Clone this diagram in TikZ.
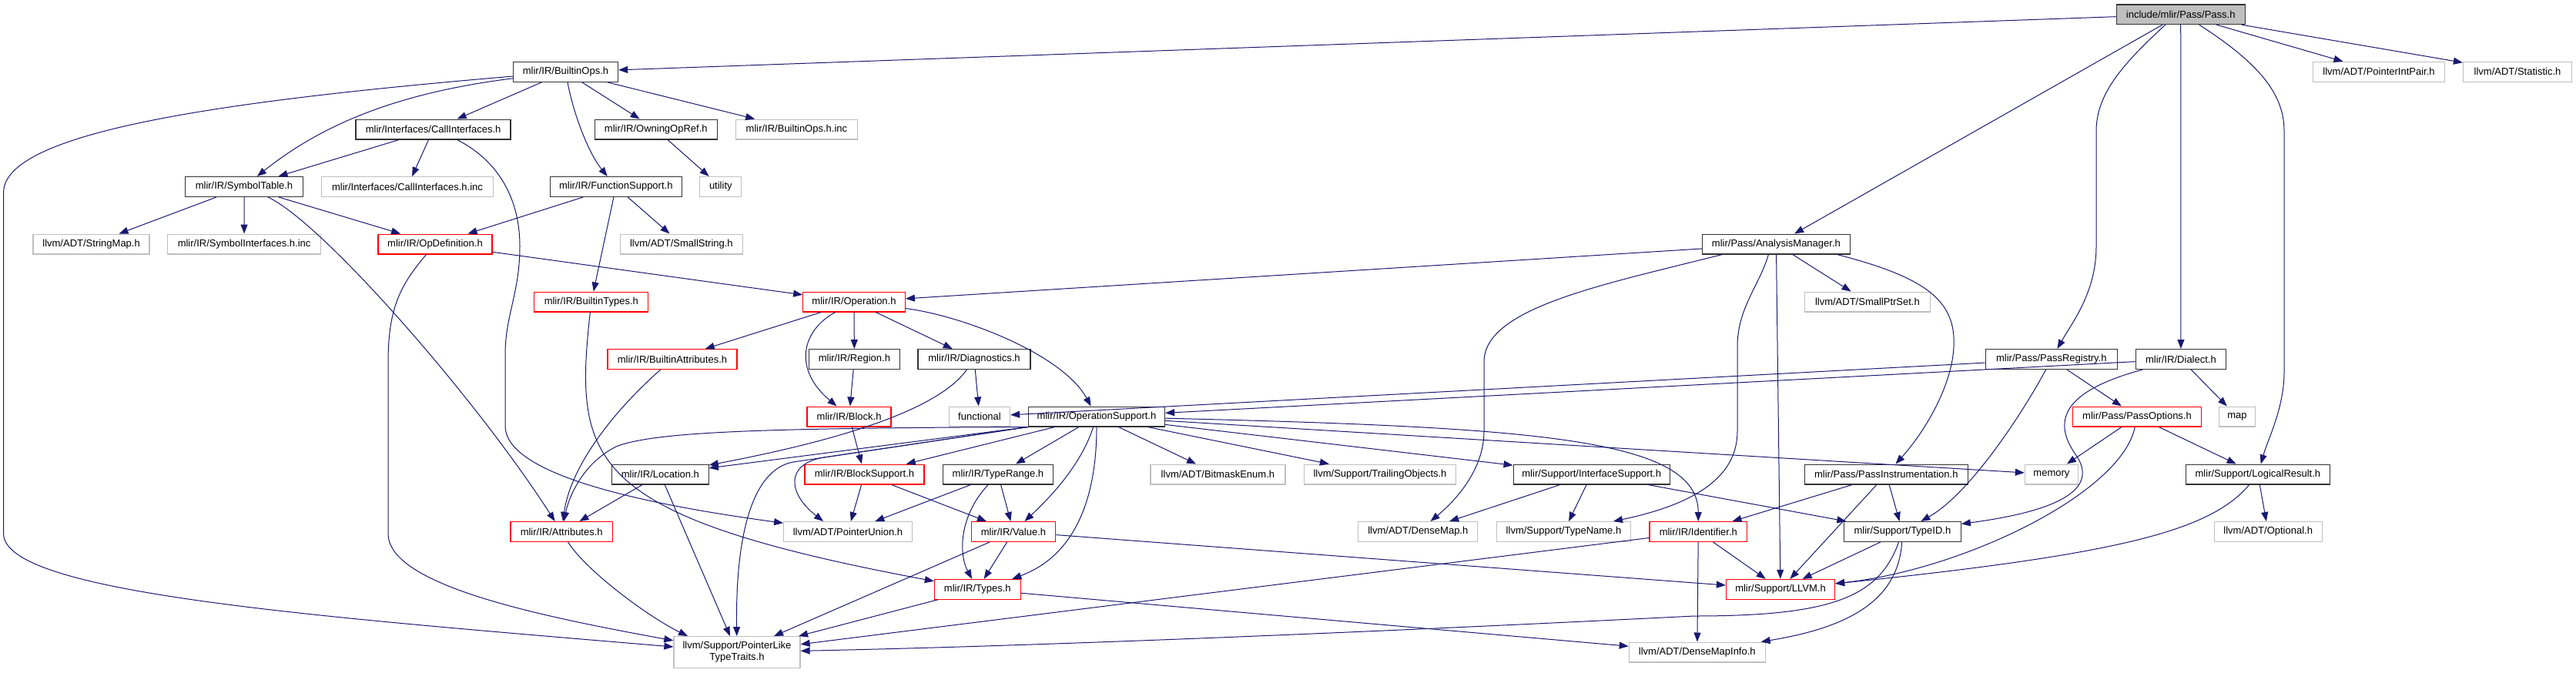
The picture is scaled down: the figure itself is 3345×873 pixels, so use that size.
\documentclass[tikz,border=0pt]{standalone}
\usepackage{fontspec}
\setmainfont{Liberation Sans}
\usetikzlibrary{arrows.meta}
\definecolor{edgec}{HTML}{191970}
\definecolor{gry}{HTML}{BFBFBF}
\definecolor{trc}{HTML}{FF0000}
\begin{document}
\begin{tikzpicture}[x=1pt,y=-1pt,
  box/.style={draw, rectangle, fill=white, minimum height=25.7pt, inner sep=0pt, line width=1.3pt, font=\fontsize{13}{15}\selectfont, text=black},
  intb/.style={box, draw=black!80},
  extb/.style={box, draw=gry},
  trb/.style={box, draw=trc},
  edg/.style={draw=edgec, line width=1pt, -{Triangle[length=12pt,width=9pt]}}
]
\useasboundingbox (0,0) rectangle (3345,873);
% row 0
\node[intb, fill=gry, minimum width=167pt] (pass) at (2831.7,18.7) {include/mlir/Pass/Pass.h};
% row 1
\node[intb, minimum width=136pt] (builtinops) at (734.5,93.3) {mlir/IR/BuiltinOps.h};
\node[extb, minimum width=171pt] (pip) at (3089,93.3) {llvm/ADT/PointerIntPair.h};
\node[extb, minimum width=141pt] (stat) at (3269,93.3) {llvm/ADT/Statistic.h};
% row 2
\node[intb, minimum width=201pt] (callif) at (562.6,168) {mlir/Interfaces/CallInterfaces.h};
\node[intb, minimum width=159pt] (owning) at (851.8,168) {mlir/IR/OwningOpRef.h};
\node[extb, minimum width=158pt] (boinc) at (1034.4,168) {mlir/IR/BuiltinOps.h.inc};
% row 3
\node[intb, minimum width=153pt] (symtab) at (317,242.5) {mlir/IR/SymbolTable.h};
\node[extb, minimum width=223pt] (callifinc) at (529,242.5) {mlir/Interfaces/CallInterfaces.h.inc};
\node[intb, minimum width=171pt] (funcsup) at (799.8,242.5) {mlir/IR/FunctionSupport.h};
\node[extb, minimum width=54pt] (utility) at (935.8,242.5) {utility};
% row 4
\node[extb, minimum width=151pt] (strmap) at (118.6,317) {llvm/ADT/StringMap.h};
\node[extb, minimum width=199pt] (syminc) at (317.1,317) {mlir/IR/SymbolInterfaces.h.inc};
\node[trb, minimum width=148pt] (opdef) at (565,317) {mlir/IR/OpDefinition.h};
\node[extb, minimum width=159pt] (smallstr) at (884.9,317) {llvm/ADT/SmallString.h};
\node[intb, minimum width=192pt] (anmgr) at (2306.4,317) {mlir/Pass/AnalysisManager.h};
% row 5
\node[trb, minimum width=148pt] (btypes) at (767.8,392) {mlir/IR/BuiltinTypes.h};
\node[trb, minimum width=132.5pt] (operation) at (1109,392) {mlir/IR/Operation.h};
\node[extb, minimum width=163pt] (smallptr) at (2424.9,392) {llvm/ADT/SmallPtrSet.h};
% row 6
\node[trb, minimum width=168pt] (battr) at (873,466.5) {mlir/IR/BuiltinAttributes.h};
\node[intb, minimum width=117.6pt] (region) at (1109.4,466.5) {mlir/IR/Region.h};
\node[intb, minimum width=146pt] (diag) at (1265,466.5) {mlir/IR/Diagnostics.h};
\node[intb, minimum width=171pt] (passreg) at (2663.8,466.5) {mlir/Pass/PassRegistry.h};
\node[intb, minimum width=117.5pt] (dialect) at (2831.9,466.5) {mlir/IR/Dialect.h};
% row 7
\node[trb, minimum width=109pt] (block) at (1102.6,541) {mlir/IR/Block.h};
\node[extb, minimum width=79pt] (functional) at (1272,541) {functional};
\node[intb, minimum width=177pt] (opsup) at (1424,541) {mlir/IR/OperationSupport.h};
\node[trb, minimum width=166.6pt] (passopt) at (2775,541) {mlir/Pass/PassOptions.h};
\node[extb, minimum width=47pt] (map) at (2905,541) {map};
% row 8
\node[intb, minimum width=125.5pt] (location) at (857.4,616) {mlir/IR/Location.h};
\node[trb, minimum width=155pt] (blocksup) at (1122.5,616) {mlir/IR/BlockSupport.h};
\node[intb, minimum width=142.7pt] (typerange) at (1295.9,616) {mlir/IR/TypeRange.h};
\node[extb, minimum width=175pt] (bitmask) at (1581.4,616) {llvm/ADT/BitmaskEnum.h};
\node[extb, minimum width=197pt] (trailing) at (1792,616) {llvm/Support/TrailingObjects.h};
\node[intb, minimum width=203pt] (ifsup) at (2066.7,616) {mlir/Support/InterfaceSupport.h};
\node[intb, minimum width=212pt] (passinst) at (2449.3,616) {mlir/Pass/PassInstrumentation.h};
\node[extb, minimum width=69pt] (memory) at (2663.9,616) {memory};
\node[intb, minimum width=187pt] (logres) at (2931.9,616) {mlir/Support/LogicalResult.h};
% row 9
\node[trb, minimum width=132.4pt] (attrs) at (729.2,690.5) {mlir/IR/Attributes.h};
\node[extb, minimum width=166.6pt] (ptrunion) at (1101,690.5) {llvm/ADT/PointerUnion.h};
\node[trb, minimum width=109.5pt] (value) at (1316,690.5) {mlir/IR/Value.h};
\node[extb, minimum width=155pt] (densemap) at (1841.3,690.5) {llvm/ADT/DenseMap.h};
\node[extb, minimum width=174.5pt] (typename) at (2030.5,690.5) {llvm/Support/TypeName.h};
\node[trb, minimum width=126.7pt] (ident) at (2205.3,690.5) {mlir/IR/Identifier.h};
\node[intb, minimum width=151.6pt] (typeid) at (2470.4,690.5) {mlir/Support/TypeID.h};
\node[extb, minimum width=140pt] (optional) at (2945.2,690.5) {llvm/ADT/Optional.h};
% row 10
\node[trb, minimum width=111.7pt] (types) at (1269.3,765.3) {mlir/IR/Types.h};
\node[trb, minimum width=141pt] (llvmh) at (2312,765.3) {mlir/Support/LLVM.h};
% row 11
\node[extb, minimum width=164pt, minimum height=40.6pt, align=center] (pltt) at (957,847) {llvm/Support/PointerLike\\TypeTraits.h};
\node[extb, minimum width=177pt] (dmi) at (2203.8,847) {llvm/ADT/DenseMapInfo.h};

% ---- edges from Pass.h
\draw[edg] (pass) -- (builtinops);
\draw[edg] (pass) -- (anmgr);
\draw[edg] (pass) -- (dialect);
\draw[edg] (pass) -- (pip);
\draw[edg] (pass) -- (stat);
\draw[edg] ([xshift=-20pt]pass.south) .. controls (2760,80) and (2722,120) .. (2722,170) -- (2722,320) .. controls (2722,380) and (2690,420) .. (passreg);
\draw[edg] ([xshift=24pt]pass.south) .. controls (2930,80) and (2966,120) .. (2966,170) -- (2966,483) .. controls (2966,530) and (2945,570) .. (logres);
% ---- BuiltinOps.h
\draw[edg] (builtinops) -- (callif);
\draw[edg] (builtinops) .. controls (520,120) and (420,160) .. (symtab);
\draw[edg] (builtinops) .. controls (300,130) and (4.6,170) .. (4.6,250) -- (4.6,693) .. controls (4.6,770) and (400,800) .. (pltt);
\draw[edg] (builtinops) .. controls (745,150) and (765,200) .. (funcsup);
\draw[edg] (builtinops) -- (owning);
\draw[edg] (builtinops) -- (boinc);
% ---- CallInterfaces.h
\draw[edg] (callif) -- (symtab);
\draw[edg] (callif) -- (callifinc);
\draw[edg] ([xshift=31pt]callif.south) .. controls (640,205) and (675,250) .. (675,320) .. controls (675,380) and (656,410) .. (656,460) -- (656,553) .. controls (656,610) and (800,650) .. (ptrunion);
% ---- SymbolTable.h
\draw[edg] (symtab) -- (strmap);
\draw[edg] (symtab) -- (syminc);
\draw[edg] (symtab) -- (opdef);
\draw[edg] ([xshift=31pt]symtab.south) .. controls (420,290) and (620,520) .. (attrs);
% ---- FunctionSupport.h
\draw[edg] (funcsup) -- (opdef);
\draw[edg] (funcsup) -- (smallstr);
\draw[edg] (funcsup) -- (btypes);
\draw[edg] (owning) -- (utility);
% ---- OpDefinition.h / BuiltinTypes.h
\draw[edg] (opdef) -- (operation);
\draw[edg] (opdef) .. controls (520,370) and (504,400) .. (504,470) -- (504,693) .. controls (504,760) and (700,800) .. (pltt);
\draw[edg] (btypes) .. controls (745,600) and (760,670) .. (types);
% ---- Operation.h
\draw[edg] (operation) -- (battr);
\draw[edg] (operation) -- (region);
\draw[edg] (operation) .. controls (1040,430) and (1030,480) .. (block);
\draw[edg] (operation) -- (diag);
\draw[edg] (operation) .. controls (1250,410) and (1380,460) .. (opsup);
\draw[edg] (battr) .. controls (790,540) and (740,610) .. (attrs);
\draw[edg] (region) -- (block);
\draw[edg] (diag) -- (functional);
\draw[edg] (diag) .. controls (1220,530) and (1100,570) .. (location);
\draw[edg] (block) -- (blocksup);
% ---- AnalysisManager.h
\draw[edg] (anmgr) -- (operation);
\draw[edg] (anmgr) -- (smallptr);
\draw[edg] (anmgr) -- (llvmh);
\draw[edg] ([xshift=-70pt]anmgr.south) .. controls (2080,370) and (1927,400) .. (1927,470) -- (1927,560) .. controls (1927,610) and (1890,650) .. (densemap);
\draw[edg] ([xshift=-10pt]anmgr.south) .. controls (2285,370) and (2256,400) .. (2256,450) -- (2256,560) .. controls (2256,620) and (2200,655) .. (typename);
\draw[edg] ([xshift=79pt]anmgr.south) .. controls (2500,360) and (2540,390) .. (2537,450) .. controls (2535,500) and (2500,560) .. (passinst);
% ---- PassRegistry.h / Dialect.h
\draw[edg] (passreg) -- (functional);
\draw[edg] (passreg) -- (passopt);
\draw[edg] (passreg) .. controls (2630,530) and (2560,640) .. (typeid);
\draw[edg] (dialect) -- (opsup);
\draw[edg] (dialect) -- (map);
\draw[edg] (dialect) .. controls (2690,505) and (2660,540) .. (2695,590) .. controls (2720,625) and (2700,660) .. (typeid);
% ---- PassOptions.h / LogicalResult.h
\draw[edg] (passopt) -- (memory);
\draw[edg] (passopt) -- (logres);
\draw[edg] (passopt) .. controls (2755,640) and (2550,740) .. (llvmh);
\draw[edg] (logres) -- (optional);
\draw[edg] (logres) .. controls (2870,690) and (2750,720) .. (llvmh);
% ---- OperationSupport.h
\draw[edg] (opsup.south west) .. controls (1000,556) and (850,560) .. (800,580) .. controls (760,600) and (740,640) .. (attrs);
\draw[edg] (opsup.south west) -- (location);
\draw[edg] (opsup.south west) -- (1070,594) .. controls (1020,602) and (1022,640) .. ([xshift=-32pt]ptrunion.north);
\draw[edg] (opsup.south west) -- (1030,600) .. controls (975,610) and (955,700) .. (pltt);
\draw[edg] (opsup) -- (blocksup);
\draw[edg] (opsup) -- (typerange);
\draw[edg] (opsup) .. controls (1405,600) and (1370,640) .. (value);
\draw[edg] (opsup.south) .. controls (1424,640) and (1400,720) .. ([xshift=45pt]types.north);
\draw[edg] (opsup) -- (bitmask);
\draw[edg] (opsup) -- (trailing);
\draw[edg] (opsup) -- (ifsup);
\draw[edg] (opsup) .. controls (2000,555) and (2205,570) .. (ident);
\draw[edg] (opsup) -- (memory);
% ---- row 8 sources
\draw[edg] (location) -- (attrs);
\draw[edg] (location) -- (pltt);
\draw[edg] (blocksup) -- (ptrunion);
\draw[edg] (blocksup) -- (value);
\draw[edg] (typerange) -- (ptrunion);
\draw[edg] (typerange) -- (value);
\draw[edg] (typerange) .. controls (1245,670) and (1245,720) .. (types);
\draw[edg] (ifsup) -- (densemap);
\draw[edg] (ifsup) -- (typename);
\draw[edg] (ifsup) -- (typeid);
\draw[edg] (passinst) -- (ident);
\draw[edg] (passinst) -- (llvmh);
\draw[edg] (passinst) -- (typeid);
% ---- row 9 sources
\draw[edg] (attrs) .. controls (760,740) and (840,800) .. ([xshift=-64pt]pltt.north);
\draw[edg] (value) -- (types);
\draw[edg] (value) -- (llvmh);
\draw[edg] (value) -- (pltt);
\draw[edg] (ident) -- (dmi);
\draw[edg] (ident) -- (llvmh);
\draw[edg] (ident) -- (pltt);
\draw[edg] (typeid) -- (llvmh);
\draw[edg] (typeid) .. controls (2440,775) and (2380,800) .. (2200,800) .. controls (1700,825) and (1300,840) .. (pltt);
\draw[edg] (typeid) .. controls (2465,780) and (2400,815) .. (dmi);
% ---- row 10 sources
\draw[edg] (types) -- (pltt);
\draw[edg] (types) -- (dmi);
\end{tikzpicture}
\end{document}
